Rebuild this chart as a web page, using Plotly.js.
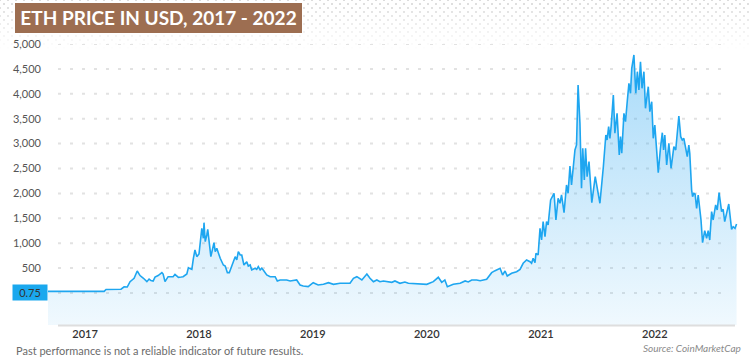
<!DOCTYPE html>
<html>
<head>
<meta charset="utf-8">
<script src="https://cdn.plot.ly/plotly-3.0.1.min.js"></script>
<style>
  html, body { margin:0; padding:0; background:#ffffff; }
  #wrap { position:relative; width:750px; height:357px; overflow:hidden; background:#ffffff; }
  #pattern {
    position:absolute; left:0; top:0; width:750px; height:50px;
    background-image:
      radial-gradient(circle, #d6d6d6 1.1px, rgba(255,255,255,0) 1.5px),
      radial-gradient(circle, #d6d6d6 1.1px, rgba(255,255,255,0) 1.5px);
    background-size: 8px 8px, 8px 8px;
    background-position: 0 0, 4px 4px;
    -webkit-mask-image: linear-gradient(to bottom, rgba(0,0,0,0.85), rgba(0,0,0,0));
    mask-image: linear-gradient(to bottom, rgba(0,0,0,0.85), rgba(0,0,0,0));
  }
  #chart { position:absolute; left:0; top:0; width:750px; height:357px; }
</style>
</head>
<body>
<div id="wrap">
  <div id="pattern"></div>
  <div id="chart"></div>
</div>
<script>
// ---- Data ----
const dates = [
  '2016-09-04','2016-10-29','2016-12-16','2017-02-02','2017-03-03','2017-03-09','2017-04-07','2017-04-26',
  '2017-05-06','2017-05-16','2017-05-25','2017-06-01','2017-06-07','2017-06-17','2017-06-26','2017-07-06',
  '2017-07-18','2017-07-25','2017-07-31','2017-08-07','2017-08-13','2017-08-23','2017-09-04','2017-09-08',
  '2017-09-14','2017-09-24','2017-10-04','2017-10-10','2017-10-16','2017-10-27','2017-11-05','2017-11-11',
  '2017-11-23','2017-11-28','2017-12-03','2017-12-09','2017-12-14','2017-12-19','2017-12-25','2018-01-01',
  '2018-01-10','2018-01-15','2018-01-17','2018-01-21','2018-01-26','2018-01-29','2018-02-08','2018-02-18',
  '2018-02-22','2018-02-27','2018-03-10','2018-03-20','2018-03-26','2018-04-02','2018-04-08','2018-04-21',
  '2018-04-27','2018-05-02','2018-05-07','2018-05-13','2018-05-18','2018-05-25','2018-06-03','2018-06-08',
  '2018-06-14','2018-06-19','2018-06-30','2018-07-05','2018-07-10','2018-07-16','2018-07-21','2018-07-26',
  '2018-08-06','2018-08-17','2018-09-02','2018-09-09','2018-09-18','2018-10-09','2018-10-20','2018-11-10',
  '2018-11-21','2018-12-01','2018-12-17','2019-01-02','2019-01-18','2019-02-04','2019-02-20','2019-03-08',
  '2019-03-29','2019-04-30','2019-05-11','2019-05-22','2019-06-07','2019-06-23','2019-07-03','2019-07-14',
  '2019-07-25','2019-08-04','2019-08-15','2019-09-11','2019-09-21','2019-10-07','2019-10-23','2019-11-03',
  '2019-11-19','2019-12-10','2020-01-01','2020-01-22','2020-02-07','2020-02-18','2020-02-28','2020-03-07',
  '2020-03-26','2020-04-17','2020-05-03','2020-05-13','2020-05-24','2020-06-09','2020-06-20','2020-07-11',
  '2020-07-27','2020-08-07','2020-08-23','2020-08-31','2020-09-08','2020-09-15','2020-09-29','2020-10-15',
  '2020-10-26','2020-11-05','2020-11-16','2020-11-27','2020-12-02','2020-12-07','2020-12-13','2020-12-16',
  '2020-12-23','2020-12-29','2021-01-03','2021-01-08','2021-01-14','2021-01-19','2021-01-24','2021-02-01',
  '2021-02-07','2021-02-12','2021-02-18','2021-02-25','2021-03-03','2021-03-08','2021-03-16','2021-03-24',
  '2021-03-29','2021-04-04','2021-04-09','2021-04-20','2021-04-25','2021-04-30','2021-05-06','2021-05-11',
  '2021-05-15','2021-05-20','2021-05-24','2021-05-29','2021-06-04','2021-06-07','2021-06-13','2021-06-24',
  '2021-06-30','2021-07-09','2021-07-20','2021-07-25','2021-07-28','2021-08-01','2021-08-06','2021-08-10',
  '2021-08-14','2021-08-21','2021-08-26','2021-09-02','2021-09-09','2021-09-13','2021-09-17','2021-09-24',
  '2021-09-29','2021-10-05','2021-10-10','2021-10-15','2021-10-19','2021-10-26','2021-11-01','2021-11-06',
  '2021-11-11','2021-11-16','2021-11-21','2021-11-27','2021-12-02','2021-12-11','2021-12-16','2021-12-22',
  '2021-12-27','2022-01-01','2022-01-12','2022-01-19','2022-01-25','2022-01-29','2022-02-02','2022-02-08',
  '2022-02-15','2022-02-22','2022-03-03','2022-03-09','2022-03-14','2022-03-19','2022-03-25','2022-03-30',
  '2022-04-04','2022-04-11','2022-04-15','2022-04-20','2022-04-23','2022-04-29','2022-05-02','2022-05-06',
  '2022-05-10','2022-05-15','2022-05-20','2022-05-29','2022-06-03','2022-06-10','2022-06-16','2022-06-21',
  '2022-06-26','2022-07-02','2022-07-07','2022-07-15','2022-07-20','2022-07-26','2022-08-03','2022-08-08',
  '2022-08-13','2022-08-19','2022-08-26','2022-09-04','2022-09-09','2022-09-15','2022-09-20'
];
const prices = [
  32,30,31,30,33,70,72,75,
  125,120,227,261,295,441,350,300,
  227,280,250,240,320,350,408,380,
  227,327,330,327,375,315,320,327,
  381,508,490,475,696,863,730,783,
  1299,1098,1412,1030,1165,1279,729,1010,
  830,897,696,562,542,408,408,629,
  729,663,830,763,763,562,629,542,
  562,462,496,475,528,462,496,462,
  361,327,327,241,261,261,241,261,
  161,141,127,207,161,174,207,174,
  194,194,295,327,261,381,295,227,
  261,227,241,214,241,194,221,194,
  187,181,174,227,315,214,261,127,
  174,194,241,221,261,261,247,275,
  408,448,496,361,441,341,395,428,
  475,596,663,629,596,696,609,797,
  763,1299,1064,1432,1131,1432,1365,1867,
  1934,2002,1466,1901,1801,1968,1612,2169,
  2002,2550,2169,2871,2972,4177,3407,2102,
  2905,2269,2905,2336,2637,2336,1813,2336,
  2102,1801,2536,3006,3173,3072,3340,3106,
  3353,3976,3207,3608,2771,3139,2805,3608,
  3440,3875,4211,4010,4512,4779,4010,4444,
  4076,4645,4110,4444,3709,4143,3641,3842,
  3106,3373,2416,2905,3219,2871,3173,2570,
  3006,2504,2938,2871,3207,3554,3139,3072,
  3106,2905,2737,2972,2805,2068,1934,2002,
  1988,1700,1968,1466,1010,1251,1098,1251,
  1064,1633,1466,1767,1667,2014,1633,1681,
  1432,1600,1787,1279,1332,1299,1385
];
const yTickVals = [0, 500, 1000, 1500, 2000, 2500, 3000, 3500, 4000, 4500, 5000];
const yTickText = ['', '500', '1,000', '1,500', '2,000', '2,500', '3,000', '3,500', '4,000', '4,500', '5,000'];
const xTickVals = ['2017-01-01', '2018-01-01', '2019-01-01', '2020-01-01', '2021-01-01', '2022-01-01'];
const xTickText = ['2017', '2018', '2019', '2020', '2021', '2022'];
const startLabel = '0.75';
const titleText = 'ETH PRICE IN USD, 2017 - 2022';
const disclaimerText = 'Past performance is not a reliable indicator of future results.';
const sourceText = 'Source: CoinMarketCap';

// ---- Style / layout constants ----
const Y_MIN = -643, Y_MAX = 5000;
const X_RANGE = ['2016-09-04', '2022-10-01'];
const LINE_BLUE = '#1ea6f0';
const FONT = 'Lato, "Open Sans", sans-serif';
const W = 750, H = 357, ML = 48, MR = 10, MT = 44, MB = 32;
const PW = W - ML - MR, PH = H - MT - MB;
const px2paperX = px => (px - ML) / PW;
const py2paperY = py => (H - MB - py) / PH;

const baseTrace = {
  x: [dates[0], dates[dates.length - 1]],
  y: [Y_MIN, Y_MIN],
  type: 'scatter', mode: 'lines',
  line: { width: 0 }, hoverinfo: 'skip', showlegend: false
};
const priceTrace = {
  x: dates, y: prices,
  type: 'scatter', mode: 'lines',
  line: { color: LINE_BLUE, width: 1.6 },
  fill: 'tonexty',
  fillgradient: {
    type: 'vertical',
    start: Y_MIN, stop: 4800,
    colorscale: [[0, 'rgba(40,165,240,0.07)'], [1, 'rgba(40,165,240,0.40)']]
  },
  showlegend: false
};

const shapes = [];
yTickVals.forEach(v => {
  shapes.push({
    type: 'line', layer: 'below',
    xref: 'paper', yref: 'y',
    x0: px2paperX(58), x1: px2paperX(724), y0: v, y1: v,
    line: { color: '#e2e2e2', width: 2, dash: '3px,9px' }
  });
});
// x axis base line
shapes.push({
  type: 'line', layer: 'above', xref: 'paper', yref: 'paper',
  x0: px2paperX(58), x1: px2paperX(735), y0: py2paperY(325.5), y1: py2paperY(325.5),
  line: { color: '#dedede', width: 2 }
});
// title box
shapes.push({
  type: 'rect', layer: 'above', xref: 'paper', yref: 'paper',
  x0: px2paperX(15), x1: px2paperX(302), y0: py2paperY(33), y1: py2paperY(3),
  fillcolor: '#9d6e51', line: { width: 0 }
});

const annotations = [
  {
    xref: 'paper', yref: 'y', x: 0, y: 0.75, xanchor: 'right', yanchor: 'middle',
    text: startLabel, showarrow: false, bgcolor: '#1aa8ee', width: 34, height: 15, borderpad: 0,
    font: { family: FONT, size: 11, color: '#333333' }
  },
  {
    xref: 'paper', yref: 'paper', x: px2paperX(14), y: py2paperY(350), xanchor: 'left', yanchor: 'middle',
    text: disclaimerText, showarrow: false,
    font: { family: FONT, size: 11, color: '#6b6b6b' }
  },
  {
    xref: 'paper', yref: 'paper', x: px2paperX(743), y: py2paperY(347.5), xanchor: 'right', yanchor: 'middle',
    text: '<i>' + sourceText + '</i>', showarrow: false,
    font: { family: FONT, size: 10, color: '#8a8a8a' }
  }
];

const layout = {
  width: W, height: H,
  margin: { l: ML, r: MR, t: MT, b: MB, pad: 0 },
  paper_bgcolor: 'rgba(0,0,0,0)',
  plot_bgcolor: 'rgba(0,0,0,0)',
  showlegend: false,
  title: {
    text: titleText,
    xref: 'container', yref: 'container',
    x: 158.5 / W, xanchor: 'center',
    y: 1 - 18.5 / H, yanchor: 'middle',
    font: { family: FONT, size: 19, color: '#ffffff', weight: 700 }
  },
  xaxis: {
    type: 'date', range: X_RANGE,
    showgrid: false, zeroline: false, showline: false, ticks: '',
    tickvals: xTickVals, ticktext: xTickText,
    ticklabelstandoff: 1,
    tickfont: { family: FONT, size: 11, color: '#333333', weight: 600 },
    fixedrange: true
  },
  yaxis: {
    range: [Y_MIN, Y_MAX],
    showgrid: false, zeroline: false, showline: false, ticks: '',
    tickvals: yTickVals, ticktext: yTickText,
    ticklabelstandoff: 6,
    tickfont: { family: FONT, size: 11, color: '#555555' },
    fixedrange: true
  },
  shapes: shapes,
  annotations: annotations
};

Plotly.newPlot('chart', [baseTrace, priceTrace], layout, { displayModeBar: false, staticPlot: true });
</script>
</body>
</html>
